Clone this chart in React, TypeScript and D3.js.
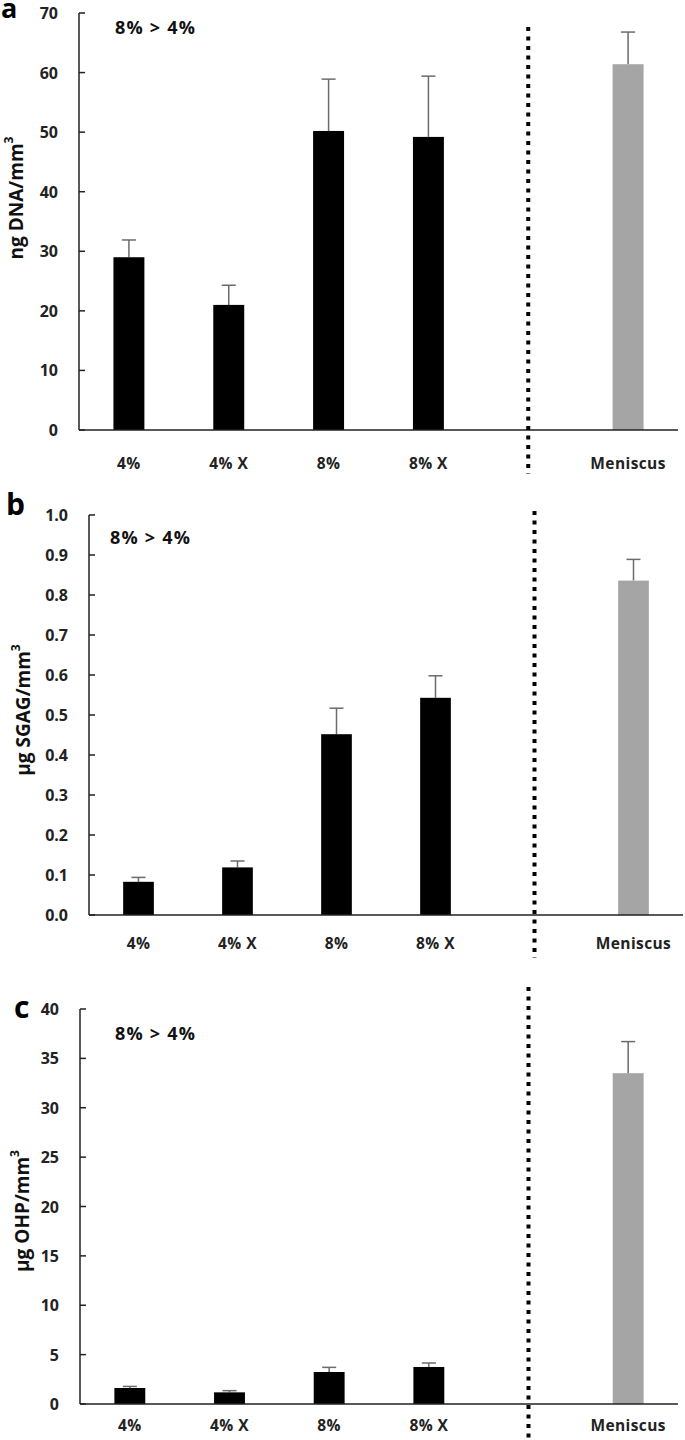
import React from "react";
import * as d3 from "d3";

const categories = ["4%", "4% X", "8%", "8% X", "Meniscus"];
const slots = ["4%", "4% X", "8%", "8% X", "gap", "Meniscus"];

const dnaValues = [29.0, 21.0, 50.2, 49.2, 61.4];
const dnaErrors = [2.9, 3.3, 8.7, 10.2, 5.4];

const sgagValues = [0.083, 0.119, 0.452, 0.543, 0.836];
const sgagErrors = [0.011, 0.016, 0.065, 0.055, 0.053];

const ohpValues = [1.62, 1.18, 3.24, 3.75, 33.5];
const ohpErrors = [0.16, 0.17, 0.47, 0.4, 3.2];

const dnaTicks = [0, 10, 20, 30, 40, 50, 60, 70];
const sgagTicks = [0, 0.1, 0.2, 0.3, 0.4, 0.5, 0.6, 0.7, 0.8, 0.9, 1.0];
const ohpTicks = [0, 5, 10, 15, 20, 25, 30, 35, 40];

const noteText = "8% > 4%";

const FONT = "'Open Sans', 'Noto Sans', sans-serif";

type PanelSpec = {
  letter: string;
  yLabel: string;
  values: number[];
  errors: number[];
  ticks: number[];
  fmt: (v: number) => string;
  x0: number;
  x1: number;
  yTop: number;
  yBottom: number;
  dotTop: number;
  dotBottom: number;
  letterX: number;
  letterY: number;
  labelX: number;
  labelY: number;
  noteX: number;
  noteY: number;
  xLabelY: number;
  letterSize: number;
};

const panels: PanelSpec[] = [
  {
    letter: "a", yLabel: "ng DNA/mm", values: dnaValues, errors: dnaErrors, ticks: dnaTicks,
    fmt: d3.format("d"), x0: 79, x1: 678, yTop: 13, yBottom: 430, dotTop: 27, dotBottom: 474,
    letterX: 1, letterY: 18, labelX: 16, labelY: 198, noteX: 115, noteY: 27, xLabelY: 463, letterSize: 27,
  },
  {
    letter: "b", yLabel: "μg SGAG/mm", values: sgagValues, errors: sgagErrors, ticks: sgagTicks,
    fmt: d3.format(".1f"), x0: 89, x1: 683, yTop: 515, yBottom: 915, dotTop: 511, dotBottom: 958,
    letterX: 6, letterY: 515, labelX: 23, labelY: 710, noteX: 110, noteY: 537, xLabelY: 943, letterSize: 30,
  },
  {
    letter: "c", yLabel: "μg OHP/mm", values: ohpValues, errors: ohpErrors, ticks: ohpTicks,
    fmt: d3.format("d"), x0: 80, x1: 678, yTop: 1009, yBottom: 1404, dotTop: 987, dotBottom: 1440,
    letterX: 14, letterY: 1018, labelX: 22, labelY: 1211, noteX: 115, noteY: 1033, xLabelY: 1425, letterSize: 30,
  },
];

function Panel({ p }: { p: PanelSpec }) {
  const x = d3.scalePoint<string>().domain(slots).range([p.x0, p.x1]).padding(0.5);
  const step = x.step();
  const barW = step * 0.31;
  const y = d3.scaleLinear().domain([p.ticks[0], p.ticks[p.ticks.length - 1]]).range([p.yBottom, p.yTop]);
  const gapX = x("gap") as number;
  return (
    <g>
      {categories.map((c, i) => {
        const cx = x(c) as number;
        const v = p.values[i];
        const e = p.errors[i];
        const color = c === "Meniscus" ? "#a5a5a5" : "#000000";
        return (
          <g key={c}>
            <line x1={cx} x2={cx} y1={y(v)} y2={y(v + e)} stroke="#6b6b6b" strokeWidth={1.5} />
            <line x1={cx - 7} x2={cx + 7} y1={y(v + e)} y2={y(v + e)} stroke="#6b6b6b" strokeWidth={1.5} />
            <rect x={cx - barW / 2} y={y(v)} width={barW} height={y(0) - y(v)} fill={color} />
            <text x={cx} y={p.xLabelY} textAnchor="middle" dominantBaseline="central"
              fontFamily={FONT} fontWeight="bold" fontSize={15.5} letterSpacing={0.4} fill="#222">{c}</text>
          </g>
        );
      })}
      <line x1={p.x0} x2={p.x0} y1={y.range()[1]} y2={p.yBottom} stroke="#222" strokeWidth={1.5} />
      <line x1={p.x0} x2={p.x1} y1={p.yBottom} y2={p.yBottom} stroke="#222" strokeWidth={1.5} />
      {p.ticks.map((t) => (
        <g key={t}>
          <line x1={p.x0} x2={p.x0 + 6} y1={y(t)} y2={y(t)} stroke="#222" strokeWidth={1.5} />
          <text x={p.x0 - 21} y={y(t)} textAnchor="end" dominantBaseline="central"
            fontFamily={FONT} fontWeight="bold" fontSize={16} fill="#222">{p.fmt(t)}</text>
        </g>
      ))}
      <line x1={gapX} x2={gapX} y1={p.dotTop} y2={p.dotBottom} stroke="#000" strokeWidth={4}
        strokeDasharray="4 5.5" />
      <text x={p.noteX} y={p.noteY} dominantBaseline="central" fontFamily={FONT} fontWeight="bold"
        fontSize={18} letterSpacing={1.2} fill="#111">{noteText}</text>
      <text x={p.letterX} y={p.letterY} fontFamily={FONT} fontWeight="bold"
        fontSize={p.letterSize} fill="#000">{p.letter}</text>
      <text transform={`translate(${p.labelX},${p.labelY}) rotate(-90)`} textAnchor="middle"
        dominantBaseline="central" fontFamily={FONT} fontWeight="bold" fontSize={19} fill="#111">
        {p.yLabel}
        <tspan fontSize={12} dy={-8}>3</tspan>
      </text>
    </g>
  );
}

export default function App() {
  return (
    <svg width={685} height={1440} style={{ position: "absolute", left: 0, top: 0, background: "#fff" }}>
      <rect width={685} height={1440} fill="#fff" />
      {panels.map((p) => (
        <Panel key={p.letter} p={p} />
      ))}
    </svg>
  );
}
